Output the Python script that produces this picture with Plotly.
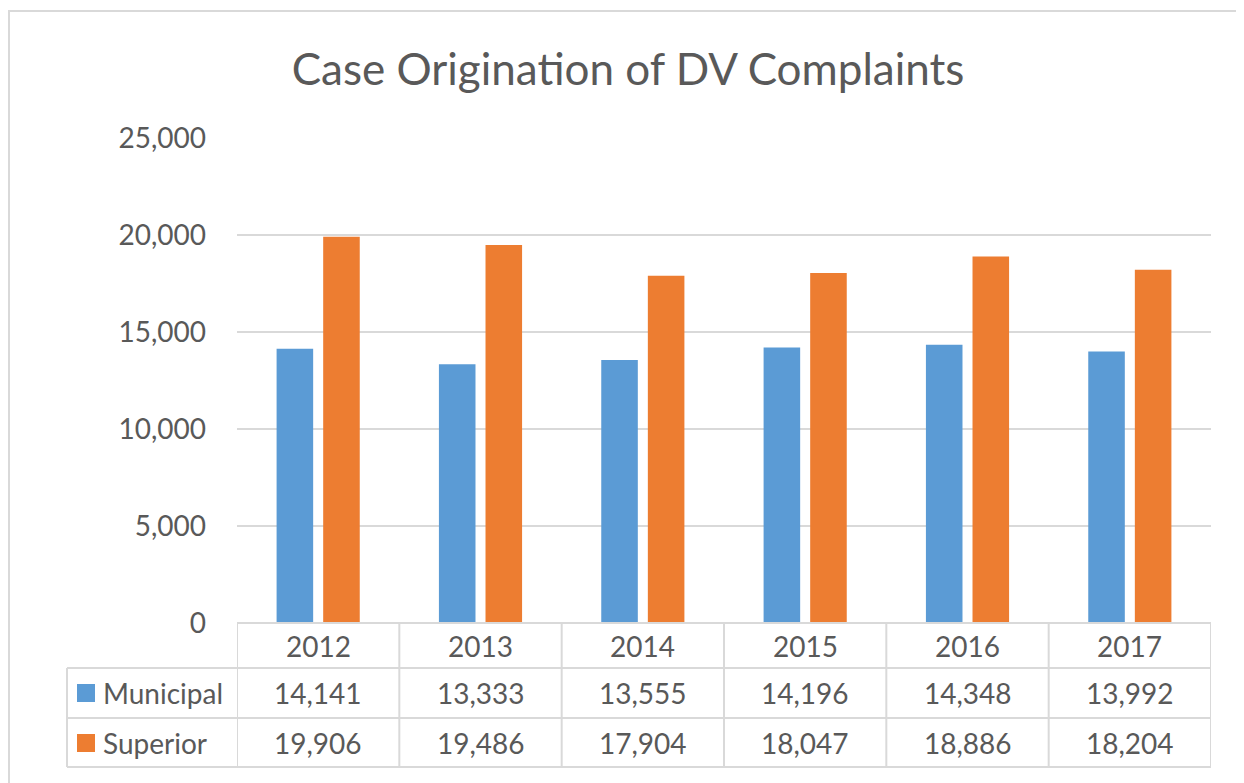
import plotly.graph_objects as go

years = ["2012", "2013", "2014", "2015", "2016", "2017"]
municipal = [14141, 13333, 13555, 14196, 14348, 13992]
superior = [19906, 19486, 17904, 18047, 18886, 18204]
series_names = ["Municipal", "Superior"]
colors = ["#5B9BD5", "#ED7D31"]
title = "Case Origination of DV Complaints"

OFF = 8  # browser body margin
W, H = 1244 - OFF, 783 - OFF
# target plot area in screen pixels: x 237..1211, y 138..623
L, R, T, B = 237 - OFF, 1244 - 1211, 138 - OFF, 783 - 623
pw, ph = W - L - R, H - T - B
FONT = "Lato, 'Open Sans', sans-serif"
TXT = "#595959"
GRID = "#d9d9d9"


def px_x(x):  # screen pixel -> paper
    return (x - OFF - L) / pw


def px_y(y):
    return (H - B - (y - OFF)) / ph


xs = list(range(len(years)))
fig = go.Figure()
for name, vals, c in zip(series_names, [municipal, superior], colors):
    fig.add_trace(go.Bar(x=xs, y=vals, name=name, marker=dict(color=c, line=dict(width=0)),
                         showlegend=False, hoverinfo="x+y+name"))

fig.update_layout(
    width=W, height=H,
    margin=dict(l=L, r=R, t=T, b=B, autoexpand=False),
    paper_bgcolor="white", plot_bgcolor="white",
    barmode="group", bargap=0.426, bargroupgap=0.215,
    title=dict(text=title, x=px_x(628), xref="paper", xanchor="center",
               y=1 - (70 - OFF) / H, yanchor="middle",
               font=dict(family=FONT, size=44, color=TXT)),
    font=dict(family=FONT, color=TXT),
)
fig.update_xaxes(range=[-0.5, len(years) - 0.5], showticklabels=False, showgrid=False,
                 zeroline=False, showline=False, ticks="")
fig.update_yaxes(range=[0, 25000], dtick=5000, tickformat=",", showgrid=True, gridcolor=GRID,
                 gridwidth=2, zeroline=False, showline=False, ticks="",
                 tickfont=dict(family=FONT, size=28, color=TXT), ticklabelstandoff=30)

shapes = []
line = dict(color=GRID, width=2)
# outer frame
shapes.append(dict(type="rect", xref="paper", yref="paper", x0=px_x(9), x1=px_x(1270),
                   y0=px_y(810), y1=px_y(11), line=dict(color="#d9d9d9", width=2)))
# table rows y positions (pixels)
y_top, y_r1, y_r2, y_bot = 623, 668, 718, 767
x_left = 67
for yy, x0 in [(y_top, 237), (y_r1, x_left), (y_r2, x_left), (y_bot, x_left)]:
    shapes.append(dict(type="line", xref="paper", yref="paper", x0=px_x(x0), x1=1,
                       y0=px_y(yy), y1=px_y(yy), line=line))
# vertical lines at category boundaries
for i in range(len(years) + 1):
    shapes.append(dict(type="line", xref="x", yref="paper", x0=i - 0.5, x1=i - 0.5,
                       y0=px_y(y_top), y1=px_y(y_bot), line=line))
shapes.append(dict(type="line", xref="paper", yref="paper", x0=px_x(x_left), x1=px_x(x_left),
                   y0=px_y(y_r1), y1=px_y(y_bot), line=line))

annotations = []
TF = dict(family=FONT, size=28, color=TXT)
for i, yr in enumerate(years):
    annotations.append(dict(x=i, xref="x", y=px_y(646), yref="paper", text=yr,
                            showarrow=False, font=TF, xanchor="center", yanchor="middle"))
    annotations.append(dict(x=i, xref="x", y=px_y(693), yref="paper", text=f"{municipal[i]:,}",
                            showarrow=False, font=TF, xanchor="center", yanchor="middle"))
    annotations.append(dict(x=i, xref="x", y=px_y(743), yref="paper", text=f"{superior[i]:,}",
                            showarrow=False, font=TF, xanchor="center", yanchor="middle"))
for name, c, yc in zip(series_names, colors, [693, 743]):
    shapes.append(dict(type="rect", xref="paper", yref="paper", x0=px_x(77), x1=px_x(95),
                       y0=px_y(yc + 9), y1=px_y(yc - 9), fillcolor=c, line=dict(width=0)))
    annotations.append(dict(x=px_x(101), xref="paper", y=px_y(yc), yref="paper", text=name,
                            showarrow=False, font=TF, xanchor="left", yanchor="middle"))

fig.update_layout(shapes=shapes, annotations=annotations)
fig.write_html("out.html")
